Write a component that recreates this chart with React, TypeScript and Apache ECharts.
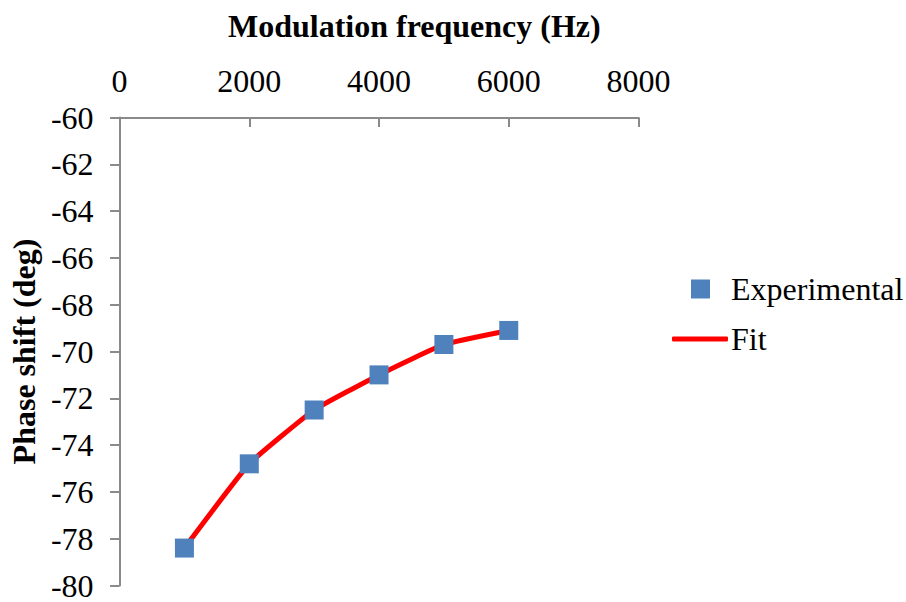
import React, { useEffect, useRef } from "react";
import * as echarts from "echarts";

// Modulation frequencies (Hz) and measured phase shifts (deg)
const frequencies = [1000, 2000, 3000, 4000, 5000, 6000];
const experimental = [-78.4, -74.8, -72.5, -71.0, -69.7, -69.1];
const fit = [-78.4, -74.8, -72.5, -71.0, -69.7, -69.1];

const FONT = "'Liberation Serif', 'Times New Roman', serif";
const FONT_SIZE = 32;
const AXIS_GREY = "#8a8a8a";

export default function App() {
  const ref = useRef<HTMLDivElement>(null);

  useEffect(() => {
    if (!ref.current) return;
    const chart = echarts.init(ref.current, undefined, { renderer: "svg" });

    chart.setOption({
      animation: false,
      backgroundColor: "#ffffff",
      title: {
        text: "Modulation frequency (Hz)",
        left: 228,
        top: 10,
        padding: 0,
        textStyle: { fontFamily: FONT, fontSize: FONT_SIZE, fontWeight: "bold", color: "#000" },
      },
      grid: { left: 118.5, right: 267.5, top: 117.5, bottom: 16.5, containLabel: false },
      legend: [
        {
          data: ["Experimental"],
          left: 691,
          top: 273,
          icon: "rect",
          itemWidth: 19,
          itemHeight: 19,
          padding: 0,
          textStyle: { fontFamily: FONT, fontSize: FONT_SIZE, color: "#000", padding: [0, 0, 0, 16] },
        },
        {
          data: ["Fit"],
          left: 672,
          top: 323,
          icon: "roundRect",
          itemWidth: 56,
          itemHeight: 5,
          padding: 0,
          textStyle: { fontFamily: FONT, fontSize: FONT_SIZE, color: "#000", padding: [0, 0, 0, -2] },
        },
      ],
      xAxis: {
        type: "value",
        position: "top",
        min: 0,
        max: 8000,
        interval: 2000,
        axisLine: { show: true, onZero: false, lineStyle: { color: AXIS_GREY, width: 2 } },
        axisTick: { show: true, inside: true, length: 9.5, lineStyle: { color: AXIS_GREY, width: 2 } },
        axisLabel: {
          margin: 21,
          fontFamily: FONT,
          fontSize: FONT_SIZE,
          color: "#000",
          formatter: (v: number) => String(v),
        },
        splitLine: { show: false },
      },
      yAxis: {
        type: "value",
        min: -80,
        max: -60,
        interval: 2,
        name: "Phase shift (deg)",
        nameLocation: "middle",
        nameRotate: 90,
        nameGap: 77,
        nameTextStyle: { fontFamily: FONT, fontSize: FONT_SIZE, fontWeight: "bold", color: "#000" },
        axisLine: { show: true, onZero: false, lineStyle: { color: AXIS_GREY, width: 2 } },
        axisTick: { show: true, length: 9.5, lineStyle: { color: AXIS_GREY, width: 2 } },
        axisLabel: { margin: 26, fontFamily: FONT, fontSize: FONT_SIZE, color: "#000" },
        splitLine: { show: false },
      },
      series: [
        {
          name: "Fit",
          type: "line",
          data: frequencies.map((f, i) => [f, fit[i]]),
          smooth: 0.12,
          showSymbol: false,
          color: "#ff0000",
          lineStyle: { color: "#ff0000", width: 5, cap: "round" },
          z: 2,
        },
        {
          name: "Experimental",
          type: "scatter",
          data: frequencies.map((f, i) => [f, experimental[i]]),
          symbol: "rect",
          symbolSize: 19,
          itemStyle: { color: "#4f81bd", opacity: 1 },
          z: 3,
        },
      ],
    });

    return () => chart.dispose();
  }, []);

  return (
    <div
      ref={ref}
      style={{ position: "fixed", left: 0, top: 0, width: 906, height: 602, background: "#fff" }}
    />
  );
}
